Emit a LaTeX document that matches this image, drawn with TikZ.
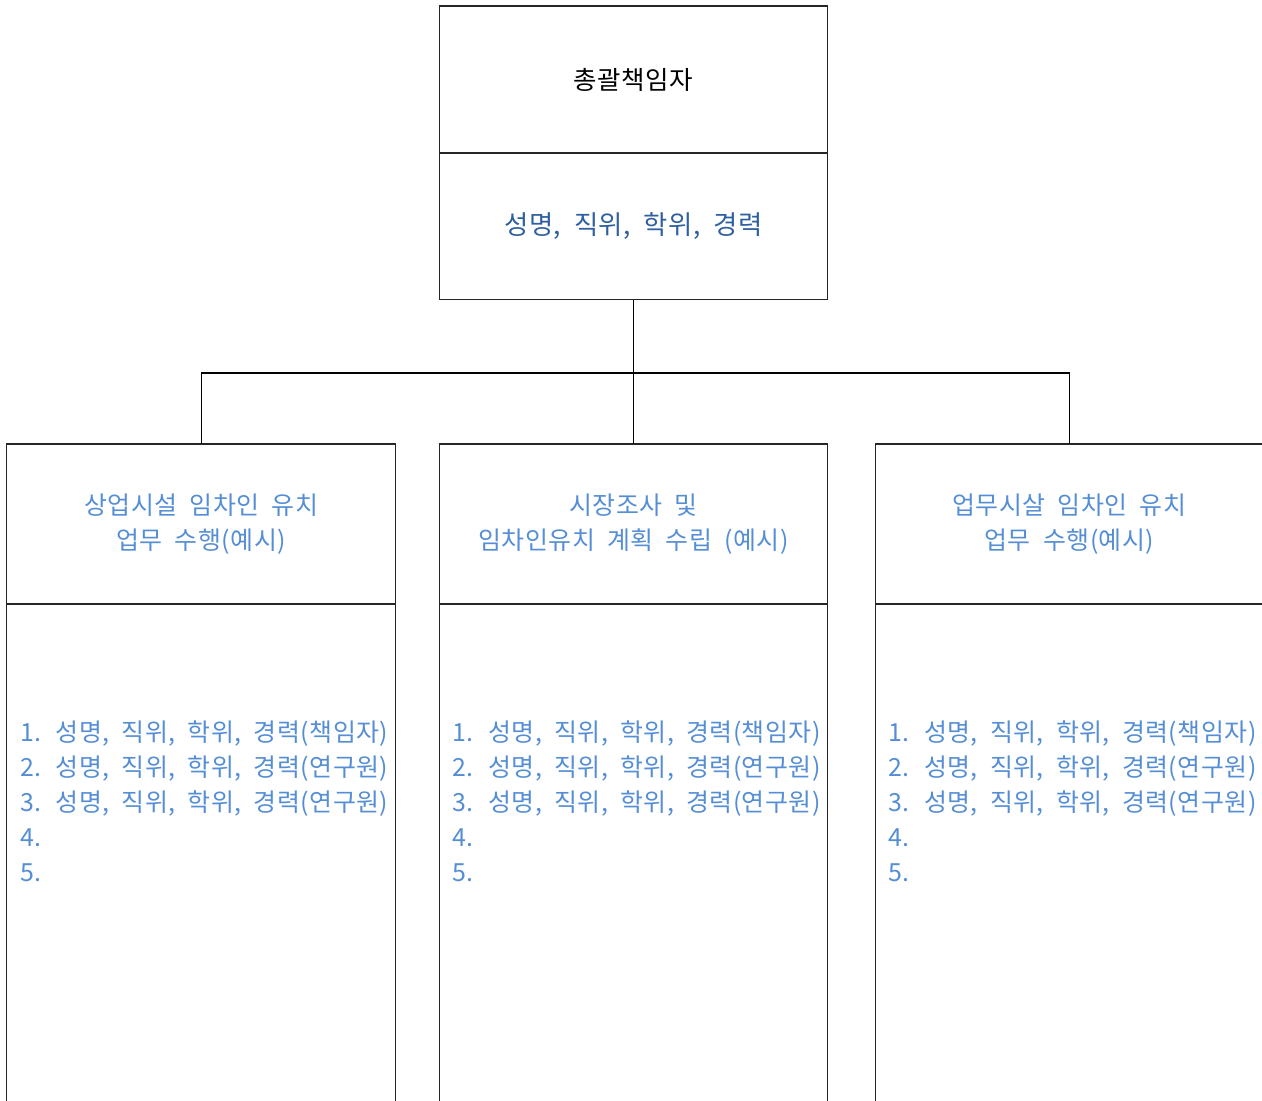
\documentclass[tikz,border=0pt]{standalone}
\usepackage{fontspec}
\setmainfont[LetterSpace=2, WordSpace=2]{Noto Sans CJK KR}
\usepackage{tikz}
\usetikzlibrary{positioning}
\definecolor{infoblue}{RGB}{47,95,160}
\definecolor{listblue}{RGB}{85,142,213}
\newcommand{\memberList}{1. 성명, 직위, 학위, 경력(책임자)\\
2. 성명, 직위, 학위, 경력(연구원)\\
3. 성명, 직위, 학위, 경력(연구원)\\
4.\\
5.}
\tikzset{
  box/.style = {draw = black!85, line width = 0.6pt, minimum width = 7.77cm, inner sep = 0pt, outer sep = 0pt},
  headbox/.style = {box, minimum height = 2.94cm, font = \fontsize{14.5pt}{19.9pt}\selectfont},
  taskbox/.style = {box, minimum height = 3.2cm, text = listblue, align = center,
                    font = \fontsize{14.2pt}{19.9pt}\selectfont},
  teambox/.style = {box, minimum height = 11.2cm},
  listtext/.style = {inner sep = 0pt, text = listblue, align = left,
                     font = \fontsize{14.2pt}{19.9pt}\selectfont}
}

\begin{document}
\begin{tikzpicture}[x = 0.02cm, y = -0.02cm]
                \useasboundingbox (0,0) rectangle (1262,1101);
                % top: general manager
                \node [headbox] (head) at (633.5,79.5) {총괄책임자};
                \node [headbox, below = 0pt of head, text = infoblue, font = \fontsize{15pt}{19.9pt}\selectfont] (info) {\raisebox{-0.06cm}{성명, 직위, 학위, 경력}};
                % three work parts
                \node [taskbox] (task2) at (633.5,524) {시장조사 및\\임차인유치 계획 수립 (예시)};
                \node [taskbox, left = 0.88cm of task2] (task1) {상업시설 임차인 유치\\업무 수행(예시)};
                \node [taskbox, right = 0.95cm of task2] (task3) {업무시살 임차인 유치\\업무 수행(예시)};
                \node [teambox, below = 0pt of task1] (team1) {};
                \node [teambox, below = 0pt of task2] (team2) {};
                \node [teambox, below = 0pt of task3] (team3) {};
                \node [listtext, below right = 2.33cm and 0.26cm of task1.south west] (list1) {\memberList};
                \node [listtext, below right = 2.33cm and 0.26cm of task2.south west] (list2) {\memberList};
                \node [listtext, below right = 2.33cm and 0.26cm of task3.south west] (list3) {\memberList};
                % connectors
                \draw [line width = 0.6pt] (info.south) -- (task2.north);
                \draw [line width = 0.6pt] (task1.north) -- ++(0,-71) -| (task3.north);
              \end{tikzpicture}
\end{document}
